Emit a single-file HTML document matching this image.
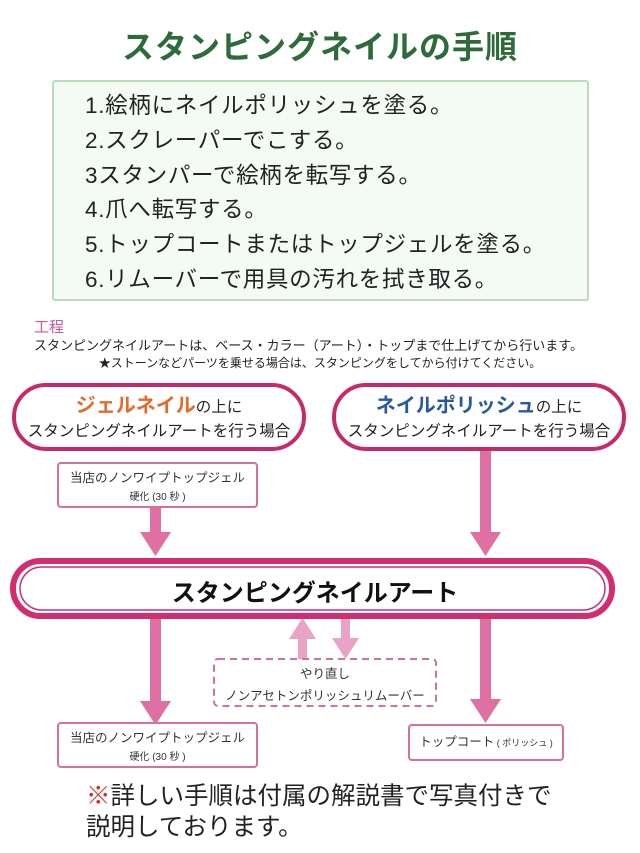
<!DOCTYPE html>
<html><head><meta charset="utf-8"><style>
*{margin:0;padding:0;box-sizing:border-box}
body{width:640px;height:853px;background:#fff;position:relative;overflow:hidden;font-family:"Liberation Sans","Noto Sans CJK JP",sans-serif;color:#222}
.a{position:absolute;white-space:nowrap}
.title{left:0;width:640px;top:22px;text-align:center;font-size:32px;font-weight:bold;color:#2d6b3a;letter-spacing:1px}
.gbox{left:52px;top:80px;width:537px;height:221px;background:#f4faf4;border:2px solid #b6ddbe;border-radius:3px}
.steps{left:85px;top:89px;font-size:22.5px;line-height:34.8px;color:#222;letter-spacing:.7px}
.pill{border:4px solid #c72a6c;border-radius:34px;background:#fff;text-align:center;font-size:15.5px;line-height:24px;padding-top:7px;color:#222}
.sbox{border:2px solid #d86f9d;border-radius:4px;background:#fff;text-align:center;font-size:12.5px;color:#333}
</style></head><body>
<div class="a title">スタンピングネイルの手順</div>
<div class="a gbox"></div>
<div class="a steps">1.絵柄にネイルポリッシュを塗る。<br>2.スクレーパーでこする。<br>3スタンパーで絵柄を転写する。<br>4.爪へ転写する。<br>5.トップコートまたはトップジェルを塗る。<br>6.リムーバーで用具の汚れを拭き取る。</div>
<div class="a" style="left:34px;top:316px;font-size:15px;color:#d0559a">工程</div>
<div class="a" style="left:34px;top:335px;font-size:13px;color:#222">スタンピングネイルアートは、ベース・カラー（アート）・トップまで仕上げてから行います。</div>
<div class="a" style="left:0;width:640px;top:354px;text-align:center;font-size:12px;color:#222">★ストーンなどパーツを乗せる場合は、スタンピングをしてから付けてください。</div>

<svg class="a" style="left:0;top:0" width="640" height="853">
<g fill="#e06fa3">
<rect x="150" y="506" width="11" height="28"/><polygon points="140,532 171,532 155.5,556"/>
<rect x="480" y="448" width="11" height="86"/><polygon points="470,532 501,532 485.5,556"/>
<rect x="150" y="615" width="11" height="88"/><polygon points="140,701 171,701 155.5,725"/>
<rect x="480" y="615" width="11" height="86"/><polygon points="470,699 501,699 485.5,723"/>
</g>
<g fill="#eaa3c6">
<rect x="298" y="637" width="9" height="22"/><polygon points="289,639 316,639 302.5,618"/>
<rect x="341" y="618" width="9" height="22"/><polygon points="332,638 359,638 345.5,659"/>
</g>
<rect x="13" y="561" width="599" height="55" rx="27.5" fill="#fff" stroke="#d22d72" stroke-width="6"/>
<rect x="20" y="567" width="585" height="43" rx="21.5" fill="none" stroke="#d22d72" stroke-width="1.5"/>
<rect x="214" y="659" width="222" height="47" rx="4" fill="#fff" stroke="#d86f9d" stroke-width="2" stroke-dasharray="7,5"/>
</svg>

<div class="a pill" style="left:12px;top:383px;width:294px;height:68px"><span style="color:#e8692c;font-weight:bold;font-size:20px">ジェルネイル</span>の上に<br>スタンピングネイルアートを行う場合</div>
<div class="a pill" style="left:332px;top:383px;width:294px;height:68px"><span style="color:#2a5a9e;font-weight:bold;font-size:20px">ネイルポリッシュ</span>の上に<br>スタンピングネイルアートを行う場合</div>
<div class="a sbox" style="left:57px;top:462px;width:201px;height:46px;padding-top:5px;line-height:18px">当店のノンワイプトップジェル<br><span style="font-size:10px">硬化 (30 秒 )</span></div>
<div class="a" style="left:0;width:630px;top:573px;text-align:center;font-size:24px;font-weight:bold;color:#111">スタンピングネイルアート</div>
<div class="a" style="left:214px;width:222px;top:663px;text-align:center;font-size:12.5px;line-height:22px;color:#333">やり直し<br>ノンアセトンポリッシュリムーバー</div>
<div class="a sbox" style="left:57px;top:722px;width:201px;height:46px;padding-top:5px;line-height:18px">当店のノンワイプトップジェル<br><span style="font-size:10px">硬化 (30 秒 )</span></div>
<div class="a sbox" style="left:408px;top:724px;width:156px;height:37px;line-height:33px">トップコート<span style="font-size:9px"> ( ポリッシュ )</span></div>
<div class="a" style="left:86px;top:781px;font-size:24.5px;line-height:31px;color:#222"><span style="color:#e0261e">※</span>詳しい手順は付属の解説書で写真付きで<br>説明しております。</div>
</body></html>
